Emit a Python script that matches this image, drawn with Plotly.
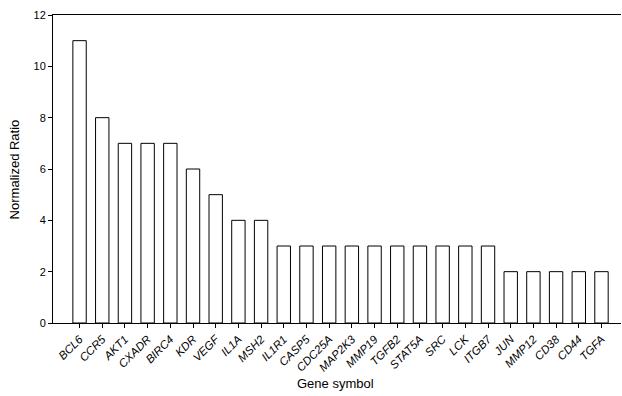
import plotly.graph_objects as go

genes = ["BCL6", "CCR5", "AKT1", "CXADR", "BIRC4", "KDR", "VEGF", "IL1A", "MSH2",
         "IL1R1", "CASP5", "CDC25A", "MAP2K3", "MMP19", "TGFB2", "STAT5A", "SRC", "LCK",
         "ITGB7", "JUN", "MMP12", "CD38", "CD44", "TGFA"]
ratios = [11, 8, 7, 7, 7, 6, 5, 4, 4, 3, 3, 3, 3, 3, 3, 3, 3, 3, 3, 2, 2, 2, 2, 2]
y_ticks = [0, 2, 4, 6, 8, 10, 12]

fig = go.Figure(go.Bar(
    x=list(range(len(genes))), y=ratios, width=0.59,
    marker=dict(color="white", line=dict(color="black", width=1)),
))

fig.update_layout(
    width=622, height=396,
    margin=dict(l=53, r=1, t=15, b=73),
    paper_bgcolor="white", plot_bgcolor="white",
    showlegend=False,
    font=dict(family="Liberation Sans, Arial", color="black", size=11),
    xaxis=dict(
        range=[-1.17, 23.86], automargin=False,
        tickmode="array", tickvals=list(range(len(genes))),
        ticktext=["<i>%s</i>" % g for g in genes],
        tickangle=-45, ticks="outside", ticklen=4, tickcolor="black",
        showline=True, linecolor="black", linewidth=1, mirror=True,
        showgrid=False, zeroline=False,
        tickfont=dict(size=11.5),
    ),
    yaxis=dict(
        range=[0, 12], tickvals=y_ticks, automargin=False,
        ticks="outside", ticklen=4, tickcolor="black",
        showline=True, linecolor="black", linewidth=1,
        showgrid=False, zeroline=False,
        tickfont=dict(size=11),
    ),
    annotations=[
        dict(text="Gene symbol", xref="paper", yref="paper", x=0.497, y=-0.195,
             xanchor="center", yanchor="middle", showarrow=False, font=dict(size=13)),
        dict(text="Normalized Ratio", xref="paper", yref="paper", x=-0.068, y=0.5,
             xanchor="center", yanchor="middle", textangle=-90, showarrow=False,
             font=dict(size=13)),
    ],
)

fig.write_html("out.html", config={"displayModeBar": False},
               post_script="document.body.style.margin='0';document.body.style.overflow='hidden';")
